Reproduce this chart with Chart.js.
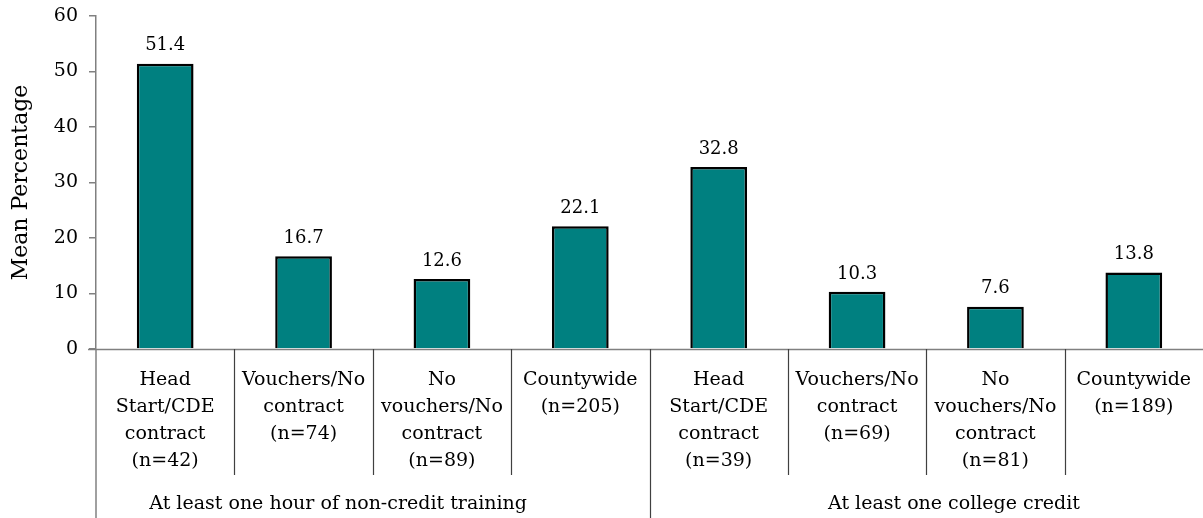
<!DOCTYPE html>
<html>
<head>
<meta charset="utf-8">
<script src="https://cdn.jsdelivr.net/npm/chart.js@4/dist/chart.umd.min.js"></script>
<style>
  html, body { margin: 0; padding: 0; background: #fff; }
  #wrap { width: 1203px; height: 518px; position: relative; }
</style>
</head>
<body>
<div id="wrap"><canvas id="chart"></canvas></div>
<script>
const categories = [
    ["Head", "Start/CDE", "contract", "(n=42)"],
    ["Vouchers/No", "contract", "(n=74)"],
    ["No", "vouchers/No", "contract", "(n=89)"],
    ["Countywide", "(n=205)"],
    ["Head", "Start/CDE", "contract", "(n=39)"],
    ["Vouchers/No", "contract", "(n=69)"],
    ["No", "vouchers/No", "contract", "(n=81)"],
    ["Countywide", "(n=189)"]
];
const groups = ["At least one hour of non-credit training", "At least one college credit"];
const groupSizes = [4, 4];
const values = [51.4, 16.7, 12.6, 22.1, 32.8, 10.3, 7.6, 13.8];
const yTicks = [0, 10, 20, 30, 40, 50, 60];

const FONT = "'DejaVu Serif', 'Liberation Serif', serif";

// draws the two-level category axis and the value labels
const axisPlugin = {
    id: "twoLevelAxis",
    afterDatasetsDraw(chart) {
        const ctx = chart.ctx;
        const area = chart.chartArea;
        const x = chart.scales.x;
        const meta = chart.getDatasetMeta(0);
        const n = categories.length;
        const w = (area.right - area.left) / n;
        const bottom = area.bottom;
        const H = chart.height;

        ctx.save();
        // value labels
        ctx.fillStyle = "#000";
        ctx.font = "18px " + FONT;
        ctx.textAlign = "center";
        ctx.textBaseline = "bottom";
        meta.data.forEach((bar, i) => {
            ctx.fillText(values[i].toFixed(1), bar.x, bar.y - 9);
        });

        // horizontal axis line
        ctx.strokeStyle = "#808080";
        ctx.lineWidth = 1.5;
        ctx.beginPath();
        ctx.moveTo(area.left - 8, bottom + 0.5);
        ctx.lineTo(area.right, bottom + 0.5);
        ctx.stroke();

        // left edge continues down
        ctx.beginPath();
        ctx.moveTo(area.left, bottom);
        ctx.lineTo(area.left, H);
        ctx.stroke();

        // separators
        ctx.strokeStyle = "#404040";
        ctx.lineWidth = 1.2;
        let groupEnds = [];
        let acc = 0;
        groupSizes.forEach(s => { acc += s; groupEnds.push(acc); });
        for (let i = 1; i < n; i++) {
            const sx = Math.round(area.left + i * w) + 0.5;
            const isGroup = groupEnds.includes(i);
            ctx.beginPath();
            ctx.moveTo(sx, bottom);
            ctx.lineTo(sx, isGroup ? H : bottom + 126);
            ctx.stroke();
        }

        // category labels
        ctx.font = "19px " + FONT;
        ctx.textBaseline = "middle";
        categories.forEach((lines, i) => {
            const cx = x.getPixelForValue(i);
            lines.forEach((t, j) => ctx.fillText(t, cx, bottom + 31 + j * 27));
        });

        // group labels
        const groupPos = [1.75, 6.2];
        groups.forEach((g, k) => {
            ctx.fillText(g, area.left + groupPos[k] * w, bottom + 155);
        });
        ctx.restore();
    }
};

new Chart(document.getElementById("chart"), {
    type: "bar",
    data: {
        labels: categories.map(c => c.join(" ")),
        datasets: [{
            data: values,
            backgroundColor: "#008080",
            borderColor: "#000",
            borderWidth: 2.5,
            categoryPercentage: 1,
            barPercentage: 0.41
        }]
    },
    options: {
        responsive: true,
        maintainAspectRatio: false,
        animation: false,
        layout: { padding: { top: 16, bottom: 169, left: 0, right: 0 } },
        plugins: {
            legend: { display: false },
            tooltip: { enabled: false }
        },
        scales: {
            x: { display: false },
            y: {
                min: 0,
                max: 60,
                afterBuildTicks: (s) => { s.ticks = yTicks.map(v => ({ value: v })); },
                afterFit: (s) => { s.width = 96; s.paddingTop = 0; s.paddingBottom = 0; },
                border: { color: "#808080", width: 1.5 },
                grid: { drawOnChartArea: false, tickLength: 7, color: "#808080", lineWidth: 1.5 },
                ticks: { color: "#000", padding: 11, font: { family: FONT, size: 19 } },
                title: {
                    display: true,
                    text: "Mean Percentage",
                    color: "#000",
                    font: { family: FONT, size: 22 },
                    padding: { top: 8, bottom: 0 }
                }
            }
        }
    },
    plugins: [axisPlugin]
});
</script>
</body>
</html>
